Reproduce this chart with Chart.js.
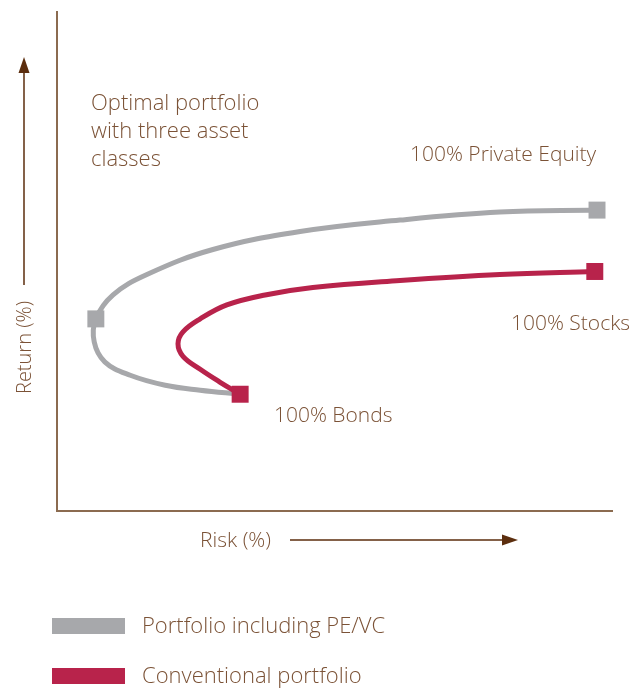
<!DOCTYPE html>
<html>
<head>
<meta charset="utf-8">
<script src="https://cdn.jsdelivr.net/npm/chart.js@4"></script>
<style>
  body { margin: 0; background: #fff; }
  #wrap { width: 641px; height: 688px; }
</style>
</head>
<body>
<div id="wrap"><canvas id="frontierChart" width="641" height="688"></canvas></div>
<script>
// Efficient frontier with PE/VC (grey), from 100% PE to 100% bonds
const peRisk   = [97.3, 79.8, 61.8, 43.8, 28.1, 16.2, 10.1, 7.0, 6.7, 8.6, 13.2, 19.5, 25.8, 33.0];
const peReturn = [60.3, 59.9, 58.3, 56.0, 52.4, 47.4, 43.3, 38.5, 33.9, 29.9, 27.2, 25.2, 24.2, 23.4];
// Conventional frontier (red), from 100% stocks to 100% bonds
const convRisk   = [96.9, 79.8, 61.8, 46.1, 37.5, 30.6, 25.8, 22.7, 21.8, 22.7, 25.8, 29.4, 33.0];
const convReturn = [48.0, 47.4, 46.2, 44.8, 43.3, 41.3, 38.5, 35.9, 33.5, 31.0, 28.4, 25.8, 23.4];

const seriesNames = ["Portfolio including PE/VC", "Conventional portfolio"];
const seriesColors = ["#a7a8ab", "#b8234b"];

// labelled points
const peMarks = [0, 7];                      // 100% PE, optimal portfolio
const convMarks = [0, convRisk.length - 1];  // 100% stocks, 100% bonds

const textColor = "#7b5236";
const axisColor = "#8b6b50";
const arrowColor = "#5c2e0e";
const fontFamily = "'Open Sans', sans-serif";

function toPoints(xs, ys) {
  return xs.map(function (x, i) { return { x: x, y: ys[i] }; });
}
function markRadius(n, marks) {
  const r = [];
  for (let i = 0; i < n; i++) r.push(marks.indexOf(i) >= 0 ? 12 : 0);
  return r;
}

const annotations = [
  { text: "Optimal portfolio", x: 91, y: 110, size: 22 },
  { text: "with three asset", x: 91, y: 138, size: 22 },
  { text: "classes", x: 91, y: 166, size: 22 },
  { text: "100% Private Equity", x: 410, y: 161, size: 21 },
  { text: "100% Stocks", x: 511, y: 330, size: 21 },
  { text: "100% Bonds", x: 274, y: 422, size: 21 },
  { text: "Risk (%)", x: 200, y: 547, size: 21 }
];

const decorPlugin = {
  id: "decor",
  afterDraw: function (chart) {
    const ctx = chart.ctx;
    ctx.save();
    ctx.fillStyle = textColor;
    ctx.textBaseline = "alphabetic";
    ctx.textAlign = "left";
    annotations.forEach(function (a) {
      ctx.font = "300 " + a.size + "px " + fontFamily;
      ctx.fillText(a.text, a.x, a.y);
    });

    // rotated y title
    ctx.save();
    ctx.font = "300 20px " + fontFamily;
    ctx.translate(31, 394);
    ctx.rotate(-Math.PI / 2);
    ctx.fillText("Return (%)", 0, 0);
    ctx.restore();

    // arrows
    ctx.strokeStyle = arrowColor;
    ctx.fillStyle = arrowColor;
    ctx.lineWidth = 1.5;
    ctx.beginPath();
    ctx.moveTo(24, 285); ctx.lineTo(24, 70);
    ctx.moveTo(290, 540); ctx.lineTo(505, 540);
    ctx.stroke();
    ctx.beginPath();
    ctx.moveTo(24, 57); ctx.lineTo(18.5, 73); ctx.lineTo(29.5, 73); ctx.closePath();
    ctx.fill();
    ctx.beginPath();
    ctx.moveTo(518, 540); ctx.lineTo(502, 534.5); ctx.lineTo(502, 545.5); ctx.closePath();
    ctx.fill();

    // legend
    ctx.font = "300 22px " + fontFamily;
    chart.data.datasets.forEach(function (ds, i) {
      const top = 618 + i * 50;
      ctx.fillStyle = ds.borderColor;
      ctx.fillRect(52, top, 73, 16);
      ctx.fillStyle = textColor;
      ctx.fillText(ds.label, 142, top + 15);
    });
    ctx.restore();
  }
};

const ctx = document.getElementById("frontierChart").getContext("2d");
new Chart(ctx, {
  type: "scatter",
  data: {
    datasets: [
      {
        label: seriesNames[0],
        data: toPoints(peRisk, peReturn),
        showLine: true,
        borderColor: seriesColors[0],
        backgroundColor: seriesColors[0],
        borderWidth: 5,
        tension: 0.4,
        pointStyle: "rect",
        pointRadius: markRadius(peRisk.length, peMarks),
        pointBorderWidth: 0,
        order: 2
      },
      {
        label: seriesNames[1],
        data: toPoints(convRisk, convReturn),
        showLine: true,
        borderColor: seriesColors[1],
        backgroundColor: seriesColors[1],
        borderWidth: 5,
        tension: 0.4,
        pointStyle: "rect",
        pointRadius: markRadius(convRisk.length, convMarks),
        pointBorderWidth: 0,
        order: 1
      }
    ]
  },
  options: {
    responsive: false,
    animation: false,
    events: [],
    layout: { padding: { left: 57, right: 29, top: 7, bottom: 177 } },
    plugins: {
      legend: { display: false },
      tooltip: { enabled: false }
    },
    scales: {
      x: {
        type: "linear", min: 0, max: 100,
        grid: { display: false },
        ticks: { display: false },
        border: { display: true, color: axisColor, width: 2 },
        afterFit: function (s) { s.height = 0; }
      },
      y: {
        type: "linear", min: 0, max: 100,
        grid: { display: false },
        ticks: { display: false },
        border: { display: true, color: axisColor, width: 2 },
        afterFit: function (s) { s.width = 0; }
      }
    }
  },
  plugins: [decorPlugin]
});
</script>
</body>
</html>
